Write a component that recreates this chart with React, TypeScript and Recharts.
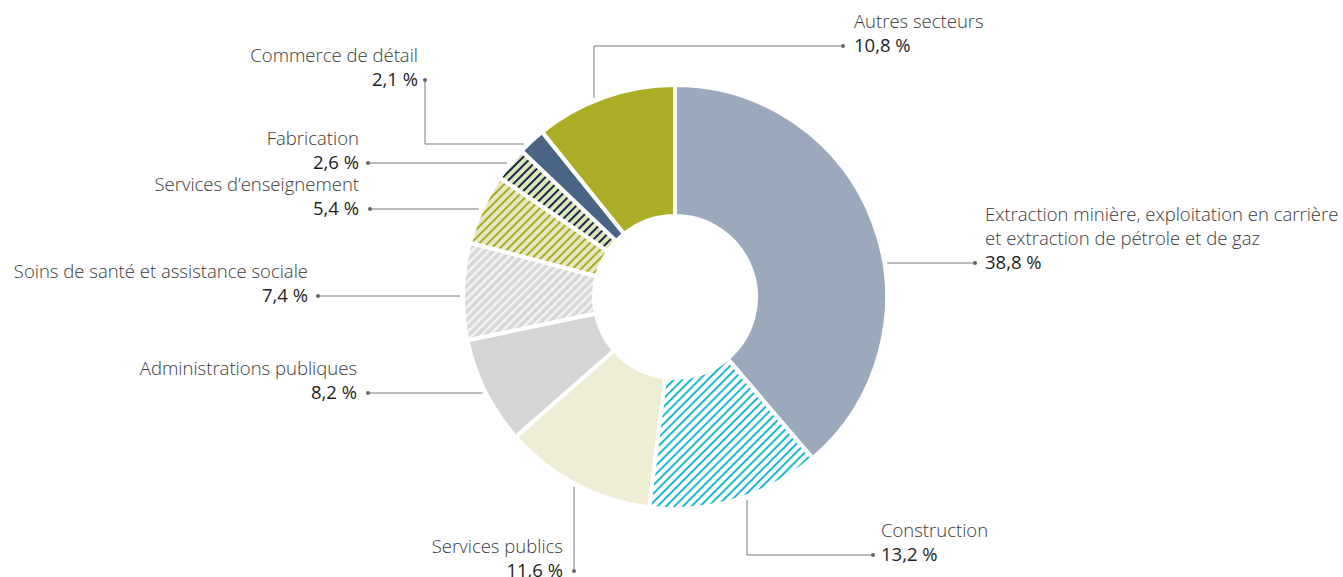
import { Cell, Pie, PieChart } from "recharts";

const categories = [
  "Extraction minière, exploitation en carrière\net extraction de pétrole et de gaz",
  "Construction",
  "Services publics",
  "Administrations publiques",
  "Soins de santé et assistance sociale",
  "Services d’enseignement",
  "Fabrication",
  "Commerce de détail",
  "Autres secteurs",
];

const shares = [38.8, 13.2, 11.6, 8.2, 7.4, 5.4, 2.6, 2.1, 10.8];

const data = categories.map((name, i) => ({ name, value: shares[i] }));

const fills = [
  "#9aa9bc",
  "url(#stripeCyan)",
  "#eeeed6",
  "#d4d6d5",
  "url(#stripeGray)",
  "url(#stripeOlive)",
  "url(#stripeNavy)",
  "#4a6485",
  "#aaad25",
];

const CX = 675;
const CY = 297;
const R_OUT = 212;
const R_IN = 81;
const R_LEAD = 215;
const LINE_H = 24;
const FONT = 18.5;
const TEXT_SHIFT = -2;

type Layout = {
  kind: "h" | "v" | "hv";
  dot: [number, number];
  lineX?: number;
  lineY?: number;
  textX: number;
  anchor: "start" | "end";
};

// where each callout goes
const layout: Layout[] = [
  { kind: "h", dot: [975, 263], textX: 985, anchor: "start" },
  { kind: "v", lineX: 747, dot: [873, 555], textX: 881, anchor: "start" },
  { kind: "v", lineX: 574, dot: [574, 571], textX: 563, anchor: "end" },
  { kind: "h", dot: [368, 393], textX: 357, anchor: "end" },
  { kind: "h", dot: [318, 296], textX: 308, anchor: "end" },
  { kind: "h", dot: [370, 209], textX: 359, anchor: "end" },
  { kind: "h", dot: [368, 163], textX: 359, anchor: "end" },
  { kind: "hv", lineY: 144, dot: [425, 80], textX: 418, anchor: "end" },
  { kind: "v", lineX: 594, dot: [843, 46], textX: 854, anchor: "start" },
];

const fmt = (v: number) => `${v.toFixed(1).replace(".", ",")} %`;

function Callout(props: any) {
  const { index, value, name } = props;
  const l = layout[index];
  if (!l) return null;
  const [dx, dy] = l.dot;
  let pts: [number, number][] = [];
  if (l.kind === "h") {
    const off = Math.sqrt(Math.max(0, R_LEAD * R_LEAD - (dy - CY) ** 2));
    const sx = dx > CX ? CX + off : CX - off;
    pts = [[sx, dy], [dx, dy]];
  } else if (l.kind === "v") {
    const x = l.lineX as number;
    const off = Math.sqrt(Math.max(0, R_LEAD * R_LEAD - (x - CX) ** 2));
    const sy = dy > CY ? CY + off : CY - off;
    pts = [[x, sy], [x, dy], [dx, dy]];
  } else {
    const y = l.lineY as number;
    const off = Math.sqrt(Math.max(0, R_LEAD * R_LEAD - (y - CY) ** 2));
    const sx = dx > CX ? CX + off : CX - off;
    pts = [[sx, y], [dx, y], [dx, dy]];
  }
  const d = pts.map((p, i) => `${i ? "L" : "M"}${p[0]},${p[1]}`).join(" ");
  const lines = String(name).split("\n");
  const valueY = dy + TEXT_SHIFT;
  return (
    <g>
      <path d={d} fill="none" stroke="#7a7a7a" strokeWidth={1} />
      <circle cx={dx} cy={dy} r={2} fill="#666" />
      {lines.map((t, i) => (
        <text
          key={i}
          x={l.textX}
          y={valueY - LINE_H * (lines.length - i)}
          textAnchor={l.anchor}
          dominantBaseline="central"
          fontFamily="'Open Sans', sans-serif"
          fontWeight={300}
          fontSize={FONT}
          fill="#3a3a3a"
        >
          {t}
        </text>
      ))}
      <text
        x={l.textX}
        y={valueY}
        textAnchor={l.anchor}
        dominantBaseline="central"
        fontFamily="'Open Sans', sans-serif"
        fontSize={FONT}
        fill="#1e1e1e"
      >
        {fmt(value)}
      </text>
    </g>
  );
}

export default function App() {
  return (
    <div style={{ position: "absolute", left: 0, top: 0, width: 1343, height: 577, background: "#fff" }}>
      <svg width={0} height={0} style={{ position: "absolute" }}>
        <defs>
          <pattern id="stripeCyan" patternUnits="userSpaceOnUse" width={6} height={6} patternTransform="rotate(45)">
            <rect width={6} height={6} fill="#fff" />
            <rect width={2} height={6} fill="#1bb8d0" />
          </pattern>
          <pattern id="stripeGray" patternUnits="userSpaceOnUse" width={6} height={6} patternTransform="rotate(45)">
            <rect width={6} height={6} fill="#d5d6d5" />
            <rect width={2.5} height={6} fill="#f4f4f4" />
          </pattern>
          <pattern id="stripeOlive" patternUnits="userSpaceOnUse" width={6} height={6} patternTransform="rotate(45)">
            <rect width={6} height={6} fill="#e7e8c3" />
            <rect width={2} height={6} fill="#a8ac2a" />
          </pattern>
          <pattern id="stripeNavy" patternUnits="userSpaceOnUse" width={6} height={6} patternTransform="rotate(45)">
            <rect width={6} height={6} fill="#e2e4b8" />
            <rect width={2} height={6} fill="#0f2d4c" />
          </pattern>
        </defs>
      </svg>
      <PieChart width={1343} height={577} margin={{ top: 0, right: 0, bottom: 0, left: 0 }}>
        <Pie
          data={data}
          dataKey="value"
          nameKey="name"
          cx={CX}
          cy={CY}
          innerRadius={R_IN}
          outerRadius={R_OUT}
          startAngle={90}
          endAngle={-270}
          stroke="#fff"
          strokeWidth={4}
          label={Callout}
          labelLine={false}
          isAnimationActive={false}
        >
          {data.map((d, i) => (
            <Cell key={d.name} fill={fills[i]} />
          ))}
        </Pie>
      </PieChart>
    </div>
  );
}
